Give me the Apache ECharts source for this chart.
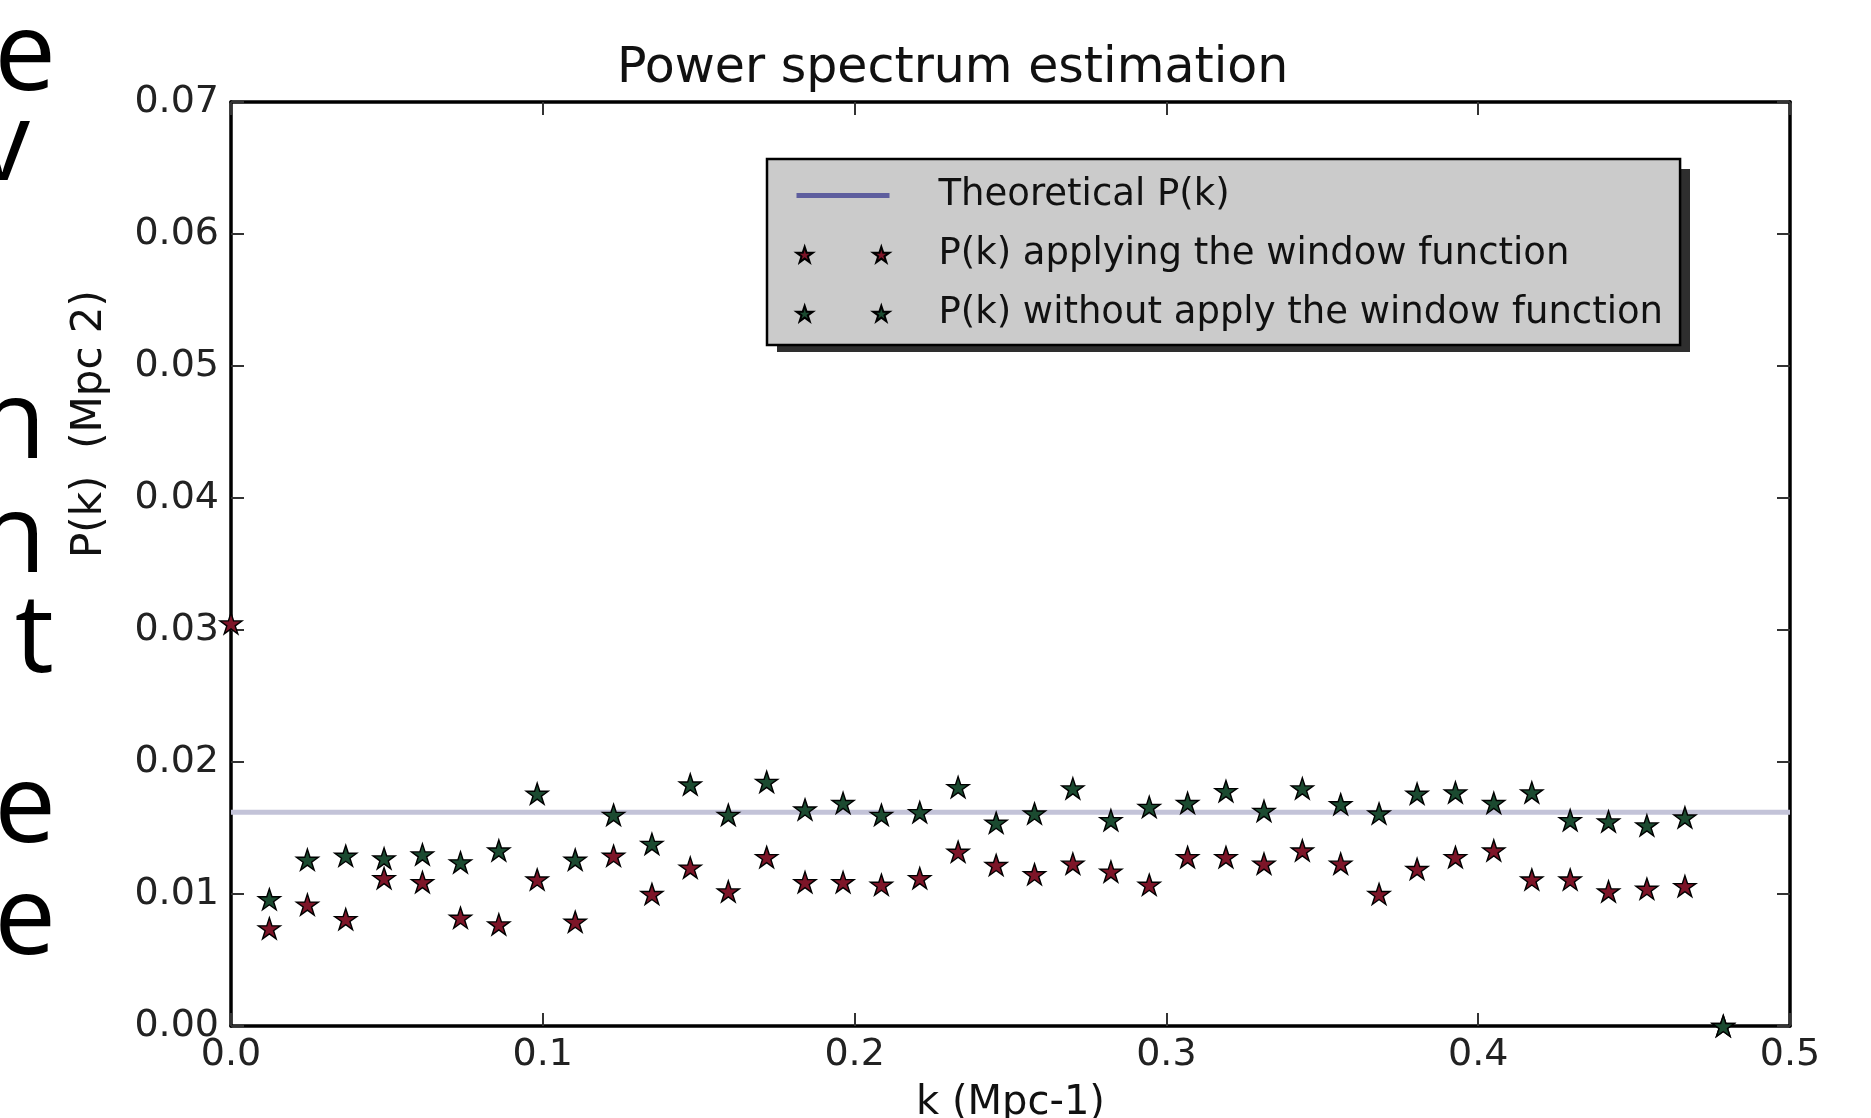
<!DOCTYPE html>
<html>
<head>
<meta charset="utf-8">
<script src="https://cdn.jsdelivr.net/npm/echarts@6.0.0/dist/echarts.min.js"></script>
<style>
    html, body { margin: 0; padding: 0; background: #fff; }
    #chart { width: 1871px; height: 1118px; }
</style>
</head>
<body>
<div id="chart"></div>
<script>
// k values of the estimated points (Mpc-1)
const kValues = [
    0.0000, 0.0123, 0.0245, 0.0368, 0.0491, 0.0614, 0.0736, 0.0859, 0.0982, 0.1104,
    0.1227, 0.1350, 0.1473, 0.1595, 0.1718, 0.1841, 0.1963, 0.2086, 0.2209, 0.2332,
    0.2454, 0.2577, 0.2700, 0.2822, 0.2945, 0.3068, 0.3191, 0.3313, 0.3436, 0.3559,
    0.3682, 0.3804, 0.3927, 0.4050, 0.4172, 0.4295, 0.4418, 0.4541, 0.4663, 0.4786
]

// P(k) applying the window function
const windowPk = [
    0.0305, 0.0074, 0.0092, 0.0081, 0.0112, 0.0109, 0.0082, 0.0077, 0.0111, 0.0079,
    0.0129, 0.0100, 0.0120, 0.0102, 0.0128, 0.0109, 0.0109, 0.0107, 0.0112, 0.0132,
    0.0122, 0.0115, 0.0123, 0.0117, 0.0107, 0.0128, 0.0128, 0.0123, 0.0133, 0.0123,
    0.0100, 0.0119, 0.0128, 0.0133, 0.0111, 0.0111, 0.0102, 0.0104, 0.0106, 0.0000
]

// P(k) without applying the window function
const noWindowPk = [
    null,   0.0096, 0.0126, 0.0129, 0.0127, 0.0130, 0.0124, 0.0133, 0.0176, 0.0126,
    0.0160, 0.0138, 0.0183, 0.0160, 0.0185, 0.0164, 0.0169, 0.0160, 0.0162, 0.0181,
    0.0154, 0.0161, 0.0180, 0.0156, 0.0166, 0.0169, 0.0178, 0.0163, 0.0180, 0.0168,
    0.0161, 0.0176, 0.0177, 0.0169, 0.0177, 0.0156, 0.0155, 0.0152, 0.0158, 0.0000
]

// theoretical P(k), flat
const theoryK = [0.0, 0.5]
const theoryPk = [0.0162, 0.0162]

// cut off words of the slide text on the left
const sideLetters = [
    { ch: 'e', x: 56, y: 114 },
    { ch: 'v', x: 30, y: 204 },
    { ch: 'n', x: 46, y: 482 },
    { ch: 'n', x: 46, y: 596 },
    { ch: 't', x: 54, y: 696 },
    { ch: 'e', x: 56, y: 866 },
    { ch: 'e', x: 56, y: 978 }
]

const STAR = 'path://M100 0 L122.45 69.1 L195.1 69.1 L136.3 111.8 L158.8 180.9 L100 138.2 L41.2 180.9 L63.7 111.8 L4.9 69.1 L77.55 69.1 Z'
const TWO_STARS = 'path://M100 0 L122.45 69.1 L195.1 69.1 L136.3 111.8 L158.8 180.9 L100 138.2 L41.2 180.9 L63.7 111.8 L4.9 69.1 L77.55 69.1 Z ' +
    'M991 0 L1013.45 69.1 L1086.1 69.1 L1027.3 111.8 L1049.8 180.9 L991 138.2 L932.2 180.9 L954.7 111.8 L895.9 69.1 L968.55 69.1 Z'

const FONT = 'DejaVu Sans'
const RED = '#7d1528'
const GREEN = '#1b4a30'

const chart = echarts.init(document.getElementById('chart'))

const pairs = (xs, ys) => xs.map((x, i) => [x, ys[i]]).filter(p => p[1] !== null)

const frameAxis = {
    min: 0,
    axisLine: { show: true, onZero: false, lineStyle: { color: '#000', width: 3.5 } },
    axisTick: { show: true, inside: true, length: 13, lineStyle: { color: '#333', width: 2 } },
    splitLine: { show: false }
}

chart.setOption({
    animation: false,
    backgroundColor: '#fff',
    title: {
        text: 'Power spectrum estimation',
        left: 612,
        top: 40,
        textStyle: { fontFamily: FONT, fontSize: 49, fontWeight: 'normal', color: '#111' }
    },
    grid: {
        left: 231,
        right: 81,
        top: 102,
        bottom: 92,
        outerBoundsMode: 'none'
    },
    legend: {
        orient: 'vertical',
        left: 767,
        top: 159,
        itemWidth: 93,
        itemHeight: 17,
        itemGap: 22,
        padding: [18, 17, 13, 27],
        backgroundColor: '#cbcbcb',
        borderColor: '#000',
        borderWidth: 2.5,
        selectedMode: false,
        textStyle: {
            fontFamily: FONT,
            fontSize: 37,
            lineHeight: 36,
            color: '#111',
            padding: [0, 0, 0, 44]
        },
        data: [
            {
                name: 'Theoretical P(k)',
                lineStyle: { color: '#5e5e9e', width: 5 },
                itemStyle: { color: 'transparent', borderWidth: 0, opacity: 0 }
            },
            { name: 'P(k) applying the window function', icon: TWO_STARS },
            { name: 'P(k) without apply the window function', icon: TWO_STARS }
        ]
    },
    xAxis: [
        {
            ...frameAxis,
            type: 'value',
            max: 0.5,
            interval: 0.1,
            position: 'bottom',
            name: 'k (Mpc-1)',
            nameLocation: 'middle',
            nameGap: 58,
            nameTextStyle: { fontFamily: FONT, fontSize: 40, color: '#111' },
            axisLabel: {
                margin: 10,
                fontFamily: FONT,
                fontSize: 38,
                color: '#222',
                formatter: v => v.toFixed(1)
            }
        },
        {
            ...frameAxis,
            type: 'value',
            max: 0.5,
            interval: 0.1,
            position: 'top',
            axisLabel: { show: false }
        }
    ],
    yAxis: [
        {
            ...frameAxis,
            type: 'value',
            max: 0.07,
            interval: 0.01,
            position: 'left',
            axisLabel: {
                margin: 12,
                fontFamily: FONT,
                fontSize: 38,
                color: '#222',
                formatter: v => v.toFixed(2)
            }
        },
        {
            ...frameAxis,
            type: 'value',
            max: 0.07,
            interval: 0.01,
            position: 'right',
            axisLabel: { show: false }
        }
    ],
    series: [
        {
            name: 'Theoretical P(k)',
            type: 'line',
            data: pairs(theoryK, theoryPk),
            symbol: 'none',
            lineStyle: { color: '#c3c3d8', width: 5 },
            itemStyle: { color: '#5e5e9e' },
            z: 2
        },
        {
            name: 'P(k) applying the window function',
            type: 'scatter',
            data: pairs(kValues, windowPk),
            symbol: STAR,
            symbolSize: [22, 21],
            itemStyle: { color: RED, borderColor: '#000', borderWidth: 1.4, opacity: 1 },
            z: 3
        },
        {
            name: 'P(k) without apply the window function',
            type: 'scatter',
            data: pairs(kValues, noWindowPk),
            symbol: STAR,
            symbolSize: [22, 21],
            itemStyle: { color: GREEN, borderColor: '#000', borderWidth: 1.4, opacity: 1 },
            z: 3
        }
    ],
    graphic: [
        {
            // hard drop shadow behind the legend box
            type: 'rect',
            z: 3,
            shape: { x: 777, y: 169, width: 913, height: 183 },
            style: { fill: '#2e2e2e' }
        },
        {
            type: 'text',
            x: 90,
            y: 424,
            rotation: Math.PI / 2,
            style: {
                text: 'P(k)  (Mpc 2)',
                fontFamily: FONT,
                fontSize: 42,
                fill: '#111',
                align: 'center',
                verticalAlign: 'middle'
            }
        },
        ...sideLetters.map(l => ({
            type: 'text',
            x: l.x,
            y: l.y,
            style: {
                text: l.ch,
                fontFamily: 'Open Sans',
                fontSize: 110,
                fill: '#000',
                align: 'right',
                verticalAlign: 'bottom'
            }
        }))
    ]
})
</script>
</body>
</html>
